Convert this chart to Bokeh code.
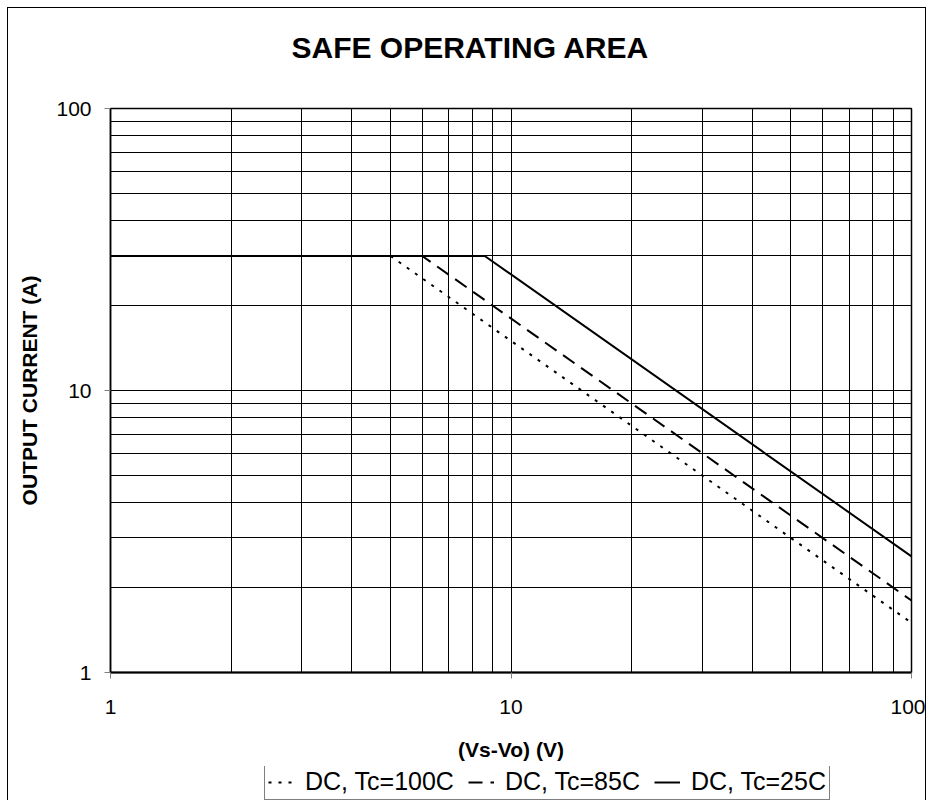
from bokeh.plotting import figure
from bokeh.layouts import column
from bokeh.models import Range1d, FixedTicker, PrintfTickFormatter, Legend, LegendItem
from bokeh.embed import file_html
from bokeh.resources import INLINE

# ---- data ----
x_major = [1, 10, 100]
x_minor = [2, 3, 4, 5, 6, 7, 8, 9, 20, 30, 40, 50, 60, 70, 80, 90]
y_major = [1, 10, 100]
y_minor = [2, 3, 4, 5, 6, 7, 8, 9, 20, 30, 40, 50, 60, 70, 80, 90]

v_100 = [1, 5.0, 100]
i_100 = [30, 30, 1.5]
v_85 = [1, 6.0, 100]
i_85 = [30, 30, 1.8]
v_25 = [1, 8.6, 100]
i_25 = [30, 30, 2.58]

labels = ["DC, Tc=100C", "DC, Tc=85C", "DC, Tc=25C"]
dashes = ["3 7", "14 8", "solid"]

FONT = "Liberation Sans"
W = 917

p = figure(width=W, height=758, x_axis_type="log", y_axis_type="log",
           x_range=Range1d(1, 100), y_range=Range1d(1, 100),
           output_backend="svg", toolbar_location=None,
           min_border_left=102, min_border_right=14,
           min_border_top=100, min_border_bottom=94)

p.title.text = "SAFE OPERATING AREA\n "
p.title.text_font = FONT
p.title.text_font_size = "30px"
p.title.text_font_style = "bold"
p.title.text_color = "black"
p.title.align = "left"
p.title.offset = 181
p.title.standoff = 24

for ax, maj, mnr in ((p.xaxis[0], x_major, x_minor), (p.yaxis[0], y_major, y_minor)):
    ax.ticker = FixedTicker(ticks=maj, minor_ticks=mnr)
    ax.formatter = PrintfTickFormatter(format="%d")
    ax.major_label_text_font = FONT
    ax.major_label_text_font_size = "21px"
    ax.major_label_text_color = "black"
    ax.axis_label_text_font = FONT
    ax.axis_label_text_font_size = "21px"
    ax.axis_label_text_font_style = "bold"
    ax.axis_label_text_color = "black"
    ax.major_tick_in = 0
    ax.major_tick_out = 6
    ax.major_tick_line_color = "#808080"
    ax.minor_tick_line_color = None
    ax.axis_line_color = "black"

p.xaxis.axis_label = "(Vs-Vo) (V)"
p.yaxis.axis_label = "OUTPUT CURRENT (A)"
p.xaxis.major_label_standoff = 21
p.yaxis.major_label_standoff = 13
p.xaxis.axis_label_standoff = 21
p.yaxis.axis_label_standoff = 12
p.xaxis.axis_line_width = 2
p.yaxis.axis_line_width = 1.5

for g in (p.xgrid[0], p.ygrid[0]):
    g.grid_line_color = "black"
    g.grid_line_width = 1
    g.minor_grid_line_color = "black"
    g.minor_grid_line_width = 1

p.outline_line_color = "black"
p.outline_line_width = 1.5

series = [(v_100, i_100), (v_85, i_85), (v_25, i_25)]
for (vx, iy), d in zip(series, dashes):
    p.line(vx, iy, line_color="black", line_width=2, line_dash=d)

# legend strip below the chart (same series; its own view range keeps them hidden)
q = figure(width=W, height=34, x_range=Range1d(1000, 2000), y_range=Range1d(1000, 2000),
           output_backend="svg", toolbar_location=None,
           min_border_left=0, min_border_right=0, min_border_top=0, min_border_bottom=0)
q.axis.visible = False
q.grid.visible = False
q.outline_line_color = None
items = []
for (vx, iy), d, lab in zip(series, dashes, labels):
    r = q.line(vx, iy, line_color="black", line_width=2, line_dash=d)
    items.append(LegendItem(label=lab, renderers=[r]))

legend = Legend(items=items, orientation="horizontal", location=(154, 0))
legend.label_text_font = FONT
legend.label_text_font_size = "25px"
legend.label_text_color = "black"
legend.glyph_width = 26
legend.label_standoff = 11
legend.spacing = 14
legend.padding = 3
legend.margin = 0
legend.border_line_color = "black"
legend.border_line_width = 1
legend.background_fill_color = "white"
legend.background_fill_alpha = 1
q.add_layout(legend, "center")

page = column(p, q, spacing=0)
page.styles = {"border": "1px solid black", "margin-left": "7px", "margin-top": "7px"}

open("out.html", "w").write(file_html(page, INLINE))
